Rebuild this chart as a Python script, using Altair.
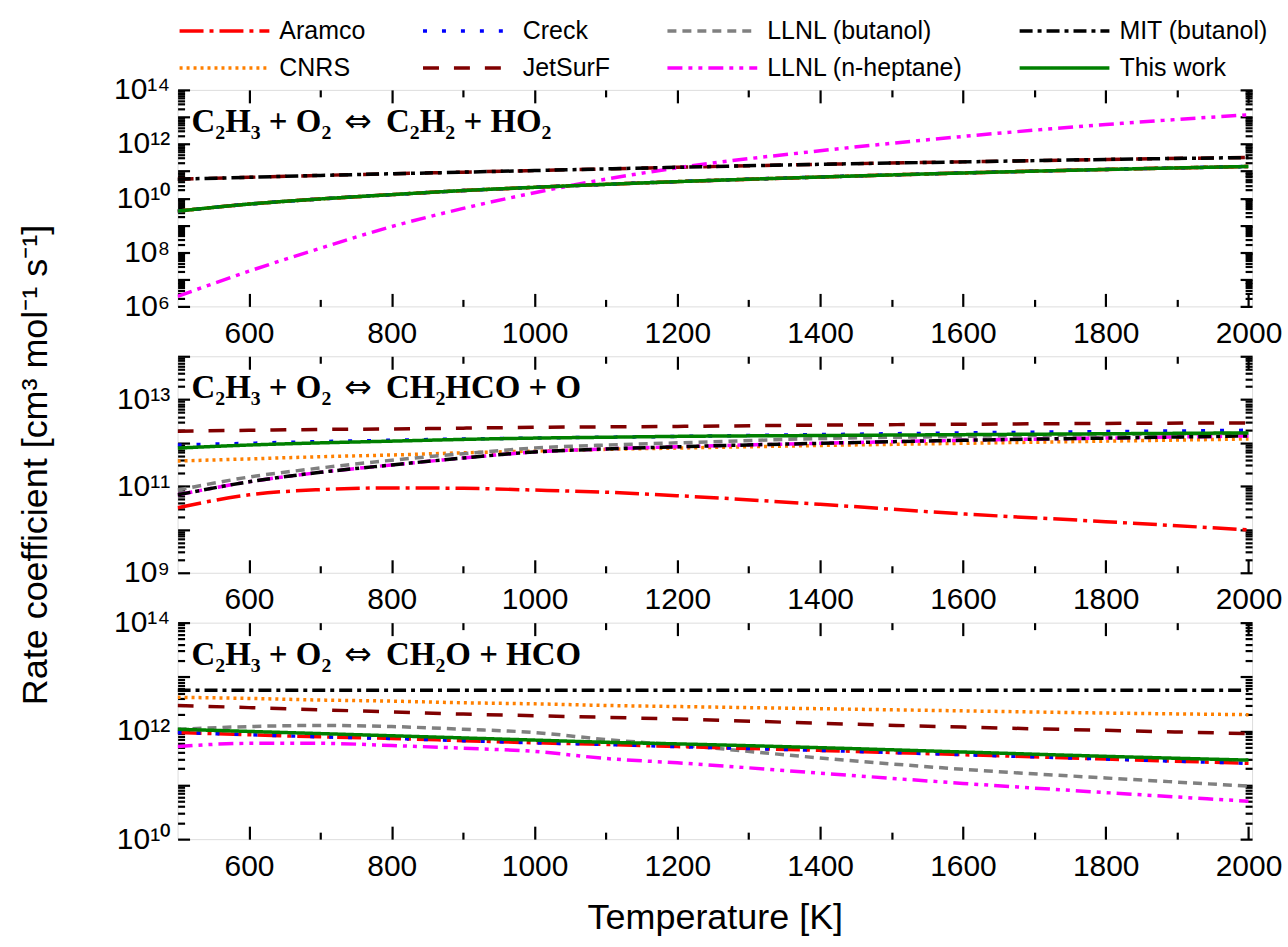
import altair as alt
import pandas as pd

# ---------------- data (log10 of rate coefficient) ----------------
T = [500, 600, 700, 800, 900, 1000, 1100, 1200, 1400, 1600, 1800, 2000]

SERIES = ["Aramco", "Creck", "LLNL (butanol)", "MIT (butanol)",
          "CNRS", "JetSurF", "LLNL (n-heptane)", "This work"]
COLORS = ["#FF0000", "#0000FF", "#808080", "#000000",
          "#FF8000", "#800000", "#FF00FF", "#008000"]
DASHES = [[24, 6, 4, 6], [4, 15], [9, 6], [13, 5, 4, 5],
          [3, 4], [16, 15], [15, 6, 4, 6, 4, 6], [1, 0]]
DRAW_ORDER = ["CNRS", "LLNL (butanol)", "JetSurF", "Aramco", "Creck",
              "LLNL (n-heptane)", "MIT (butanol)"]

REACTANTS = ["C₂H₃ + O₂", "C₂H₃ + O₂", "C₂H₃ + O₂"]
ARROWS = ["⇔", "⇔", "⇔"]
PRODUCTS = ["C₂H₂ + HO₂", "CH₂HCO + O", "CH₂O + HCO"]
Y_RANGE = [(6, 14), (9, 14), (10, 14)]
Y_LABELED = [[6, 8, 10, 12, 14], [9, 11, 13], [10, 12, 14]]
X_LABELS = [600, 800, 1000, 1200, 1400, 1600, 1800, 2000]
X_MINOR = [700, 900, 1100, 1300, 1500, 1700, 1900]
X_DOMAIN = [500, 2005]

# panel 1: C2H3 + O2 <=> C2H2 + HO2
P1_LOWER = [9.52, 9.78, 9.97, 10.13, 10.28, 10.40, 10.51, 10.61, 10.78, 10.93, 11.06, 11.17]
P1_UPPER = [10.70, 10.77, 10.84, 10.90, 10.96, 11.02, 11.08, 11.14, 11.25, 11.34, 11.43, 11.50]
P1_HEPT = [6.37, 7.30, 8.15, 8.95, 9.62, 10.20, 10.70, 11.12, 11.75, 12.28, 12.72, 13.08]
P1 = {"Aramco": P1_LOWER, "Creck": P1_LOWER, "LLNL (butanol)": P1_LOWER,
      "MIT (butanol)": P1_UPPER, "CNRS": P1_LOWER, "JetSurF": P1_UPPER,
      "LLNL (n-heptane)": P1_HEPT, "This work": P1_LOWER}

# panel 2: C2H3 + O2 <=> CH2HCO + O
P2_ARAMCO = [10.50, 10.80, 10.92, 10.96, 10.95, 10.91, 10.86, 10.78, 10.58, 10.36, 10.18, 9.99]
P2_CRECK = [11.95, 11.99, 12.03, 12.06, 12.09, 12.11, 12.13, 12.15, 12.19, 12.23, 12.26, 12.29]
P2_BUTANOL = [10.91, 11.21, 11.42, 11.60, 11.75, 11.88, 11.95, 12.00, 12.10, 12.15, 12.19, 12.22]
P2_MIT = [10.80, 11.10, 11.32, 11.49, 11.65, 11.79, 11.86, 11.91, 11.99, 12.06, 12.11, 12.16]
P2_CNRS = [11.58, 11.63, 11.68, 11.72, 11.77, 11.81, 11.85, 11.88, 11.94, 11.99, 12.04, 12.09]
P2_JETSURF = [12.27, 12.29, 12.31, 12.32, 12.34, 12.36, 12.37, 12.38, 12.41, 12.43, 12.45, 12.46]
P2_THIS = [11.88, 11.95, 12.00, 12.04, 12.08, 12.11, 12.13, 12.15, 12.17, 12.19, 12.21, 12.23]
P2 = {"Aramco": P2_ARAMCO, "Creck": P2_CRECK, "LLNL (butanol)": P2_BUTANOL,
      "MIT (butanol)": P2_MIT, "CNRS": P2_CNRS, "JetSurF": P2_JETSURF,
      "LLNL (n-heptane)": P2_MIT, "This work": P2_THIS}

# panel 3: C2H3 + O2 <=> CH2O + HCO
P3_ARAMCO = [11.97, 11.93, 11.89, 11.86, 11.82, 11.78, 11.75, 11.71, 11.64, 11.56, 11.48, 11.40]
P3_BUTANOL = [12.03, 12.08, 12.10, 12.08, 12.03, 11.97, 11.84, 11.74, 11.50, 11.29, 11.13, 10.98]
P3_MIT = [12.75, 12.75, 12.75, 12.75, 12.75, 12.75, 12.75, 12.75, 12.75, 12.75, 12.75, 12.75]
P3_CNRS = [12.62, 12.60, 12.57, 12.55, 12.52, 12.50, 12.47, 12.45, 12.41, 12.37, 12.33, 12.30]
P3_JETSURF = [12.47, 12.43, 12.39, 12.35, 12.31, 12.28, 12.25, 12.22, 12.14, 12.07, 12.01, 11.95]
P3_HEPT = [11.71, 11.77, 11.77, 11.73, 11.68, 11.62, 11.49, 11.41, 11.22, 11.03, 10.86, 10.70]
P3_THIS = [12.03, 11.99, 11.95, 11.91, 11.87, 11.83, 11.79, 11.76, 11.69, 11.61, 11.53, 11.46]
P3 = {"Aramco": P3_ARAMCO, "Creck": P3_ARAMCO, "LLNL (butanol)": P3_BUTANOL,
      "MIT (butanol)": P3_MIT, "CNRS": P3_CNRS, "JetSurF": P3_JETSURF,
      "LLNL (n-heptane)": P3_HEPT, "This work": P3_THIS}

PANELS = [P1, P2, P3]

# ---------------- styling ----------------
W, H = 1077, 217
FONT = "Liberation Sans"
SUP = str.maketrans("0123456789-", "⁰¹²³⁴⁵⁶⁷⁸⁹⁻")

color_scale = alt.Scale(domain=SERIES, range=COLORS)
dash_scale = alt.Scale(domain=SERIES, range=DASHES)
# symbol path: a horizontal stroke extending to the right of the symbol slot
legend = alt.Legend(title=None, orient="top", columns=4, direction="horizontal",
                    symbolType="M-1,0L5,0", symbolSize=900, symbolStrokeWidth=3.5,
                    labelFontSize=25, labelFont=FONT, labelColor="black", labelLimit=0,
                    columnPadding=50, rowPadding=7, labelOffset=68, symbolLimit=0,
                    offset=-7)


def label_expr(decades):
    parts = []
    for d in decades:
        parts.append(f"abs(log(datum.value)/LN10 - {d}) < 0.01 ? '10{str(d).translate(SUP)}'")
    return " : ".join(parts) + " : ''"


def panel(i, ytitle=None, xtitle=None):
    lo, hi = Y_RANGE[i]
    decades = list(range(lo, hi + 1))
    minors = [m * 10.0 ** d for d in range(lo, hi) for m in range(2, 10)]
    xs = alt.Scale(domain=X_DOMAIN, nice=False, zero=False)
    ys = alt.Scale(type="log", domain=[10.0 ** lo, 10.0 ** hi], nice=False)

    rows = []
    for s in DRAW_ORDER + ["This work"]:
        for t, v in zip(T, PANELS[i][s]):
            rows.append({"T": t, "k": 10.0 ** v, "series": s})
    df = pd.DataFrame(rows)

    def line_layer(data):
        return alt.Chart(data).mark_line(strokeWidth=3.5, interpolate="monotone", clip=True).encode(
            x=alt.X("T:Q", scale=xs, axis=None),
            y=alt.Y("k:Q", scale=ys, axis=None),
            color=alt.Color("series:N", scale=color_scale, legend=legend),
            strokeDash=alt.StrokeDash("series:N", scale=dash_scale, legend=legend),
            detail="series:N",
        )

    others = line_layer(df[df.series != "This work"])
    mine = line_layer(df[df.series == "This work"])

    helper_df = pd.DataFrame({"T": [X_DOMAIN[0], X_DOMAIN[1]], "k": [10.0 ** lo, 10.0 ** hi]})
    common = dict(grid=False, domain=False, tickColor="black", tickWidth=2.2)

    def helper(xaxis, yaxis):
        return alt.Chart(helper_df).mark_point(opacity=0).encode(
            x=alt.X("T:Q", scale=xs, axis=xaxis),
            y=alt.Y("k:Q", scale=ys, axis=yaxis),
        )

    xmain = alt.Axis(orient="bottom", values=X_LABELS, format="d", offset=-13, tickSize=13,
                     labelFont=FONT, labelFontSize=30, labelColor="black", labelPadding=12,
                     labelOverlap=False, title=xtitle, titleFont=FONT, titleFontSize=36,
                     titleFontWeight="normal", titleColor="black", titlePadding=20, **common)
    ymain = alt.Axis(orient="left", values=[10.0 ** d for d in decades], offset=-12, tickSize=12,
                     labelExpr=label_expr(Y_LABELED[i]), labelFont=FONT, labelFontSize=30,
                     labelColor="black", labelPadding=8, labelOverlap=False,
                     title=ytitle, titleFont=FONT, titleFontSize=36, titleFontWeight="normal",
                     titleColor="black", titlePadding=62, **common)
    h1 = helper(xmain, ymain)
    h2 = helper(alt.Axis(orient="bottom", values=X_MINOR, offset=-7, tickSize=7, labels=False, title=None, **common),
                alt.Axis(orient="left", values=minors, offset=-7, tickSize=7, labels=False, title=None, **common))
    h3 = helper(alt.Axis(orient="top", values=X_LABELS, offset=-13, tickSize=13, labels=False, title=None, **common),
                alt.Axis(orient="right", values=[10.0 ** d for d in decades], offset=-12, tickSize=12,
                         labels=False, title=None, **common))
    h4 = helper(alt.Axis(orient="top", values=X_MINOR, offset=-7, tickSize=7, labels=False, title=None, **common),
                alt.Axis(orient="right", values=minors, offset=-7, tickSize=7, labels=False, title=None, **common))

    lab = pd.DataFrame({"left": [REACTANTS[i]], "arrow": [ARROWS[i]], "right": [PRODUCTS[i]]})
    tstyle = dict(fontWeight="bold", fontSize=33, align="left", baseline="alphabetic", color="black")
    t_left = alt.Chart(lab).mark_text(font="Liberation Serif", **tstyle).encode(
        text="left:N", x=alt.value(14), y=alt.value(42))
    t_arrow = alt.Chart(lab).mark_text(font="DejaVu Sans", fontWeight="normal", fontSize=33,
                                       align="left", baseline="alphabetic", color="black").encode(
        text="arrow:N", x=alt.value(167), y=alt.value(42))
    t_right = alt.Chart(lab).mark_text(font="Liberation Serif", **tstyle).encode(
        text="right:N", x=alt.value(209), y=alt.value(42))

    return alt.layer(others, mine, h1, h2, h3, h4, t_left, t_arrow, t_right).resolve_axis(
        x="independent", y="independent").properties(width=W, height=H)


chart = alt.vconcat(
    panel(0),
    panel(1, ytitle="Rate coefficient [cm³ mol⁻¹ s⁻¹]"),
    panel(2, xtitle="Temperature [K]"),
    spacing=50, bounds="flush",
).configure_view(stroke="black", strokeWidth=2.5).configure(
    background="white", font=FONT
).properties(padding={"left": 17, "top": 13, "right": 5, "bottom": 5})

chart.save("out.html", embed_options={"renderer": "svg", "actions": False})
